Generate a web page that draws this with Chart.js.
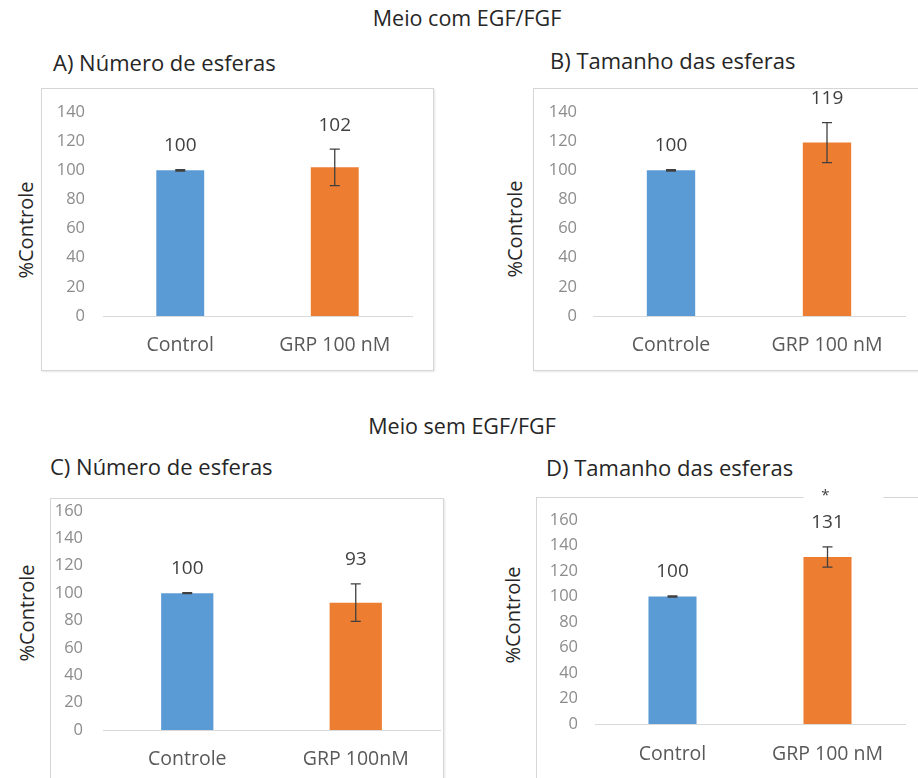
<!DOCTYPE html>
<html>
<head>
<meta charset="utf-8">
<script src="https://cdn.jsdelivr.net/npm/chart.js@4/dist/chart.umd.min.js"></script>
<style>
  html, body { margin:0; padding:0; background:#fff; overflow:hidden; }
  #page { position:relative; width:918px; height:778px; overflow:hidden; background:#fff; font-family:"Open Sans", sans-serif; }
  .box { position:absolute; border:1px solid #d6d6d6; box-sizing:border-box; box-shadow:1px 1px 2px rgba(0,0,0,0.10); }
  canvas { position:absolute; }
  .hdr { position:absolute; transform:translate(-50%,-50%); font-size:21.5px; color:#262626; white-space:nowrap; line-height:1; }
  .ttl { position:absolute; transform:translateY(-50%); font-size:22px; color:#262626; white-space:nowrap; line-height:1; }
  .ylab { position:absolute; transform:translate(-50%,-50%) rotate(-90deg); font-size:20px; color:#262626; white-space:nowrap; line-height:1; }
</style>
</head>
<body>
<div id="page">
  <div class="box" style="left:41px;top:88px;width:393px;height:283px"></div>
  <div class="box" style="left:533px;top:88px;width:400px;height:283px"></div>
  <div class="box" style="left:50px;top:498px;width:394px;height:300px"></div>
  <div class="box" style="left:536px;top:497px;width:400px;height:300px"></div>

  <div class="hdr" style="left:467px;top:18px">Meio com EGF/FGF</div>
  <div class="hdr" style="left:462px;top:426px">Meio sem EGF/FGF</div>

  <div class="ttl" style="left:53px;top:62px">A) Número de esferas</div>
  <div class="ttl" style="left:550px;top:60px">B) Tamanho das esferas</div>
  <div class="ttl" style="left:50px;top:466px">C) Número de esferas</div>
  <div class="ttl" style="left:546px;top:467px">D) Tamanho das esferas</div>

  <div class="ylab" style="left:26px;top:230px">%Controle</div>
  <div class="ylab" style="left:515px;top:229px">%Controle</div>
  <div class="ylab" style="left:27px;top:613px">%Controle</div>
  <div class="ylab" style="left:513px;top:615px">%Controle</div>

  <canvas id="cA" width="393" height="283" style="left:41px;top:88px"></canvas>
  <canvas id="cB" width="385" height="283" style="left:533px;top:88px"></canvas>
  <canvas id="cC" width="394" height="290" style="left:50px;top:498px"></canvas>
  <canvas id="cD" width="382" height="311" style="left:536px;top:477px"></canvas>
</div>
<script>
// ---- data ----
const categoriesA = ['Control', 'GRP 100 nM'];
const valuesA = [100, 102];
const errorsA = [0.5, 12.5];

const categoriesB = ['Controle', 'GRP 100 nM'];
const valuesB = [100, 119];
const errorsB = [0.5, 13.7];

const categoriesC = ['Controle', 'GRP 100nM'];
const valuesC = [100, 93];
const errorsC = [0.3, 13.7];

const categoriesD = ['Control', 'GRP 100 nM'];
const valuesD = [100, 131];
const errorsD = [0.5, 8];
const marksD = ['', '*'];

const yMaxTop = 140;
const yMaxBottom = 160;
const yStep = 20;

const barColors = ['#5B9BD5', '#ED7D31'];
const FONT = '"Open Sans", sans-serif';

const errorBarPlugin = {
  id: 'errs',
  afterDatasetsDraw(chart, args, opts) {
    const ctx = chart.ctx;
    const meta = chart.getDatasetMeta(0);
    const ys = chart.scales.y;
    const vals = chart.data.datasets[0].data;
    meta.data.forEach((bar, i) => {
      const v = vals[i], e = opts.errors[i];
      const top = ys.getPixelForValue(v + e);
      const bot = ys.getPixelForValue(v - e);
      ctx.save();
      ctx.strokeStyle = '#404040';
      ctx.lineWidth = 1.3;
      ctx.beginPath();
      ctx.moveTo(bar.x, top); ctx.lineTo(bar.x, bot);
      ctx.moveTo(bar.x - 5, top); ctx.lineTo(bar.x + 5, top);
      ctx.moveTo(bar.x - 5, bot); ctx.lineTo(bar.x + 5, bot);
      ctx.stroke();
      ctx.fillStyle = '#404040';
      ctx.font = '19px ' + FONT;
      ctx.textAlign = 'center';
      ctx.textBaseline = 'middle';
      const ly = top - 24;
      ctx.fillText(String(v), bar.x, ly);
      if (opts.marks && opts.marks[i]) {
        ctx.fillStyle = '#ffffff';
        ctx.fillRect(bar.x - 24, ly - 37, 80, 16);
        ctx.fillStyle = '#404040';
        ctx.font = '15px ' + FONT;
        ctx.fillText(opts.marks[i], bar.x - 2, ly - 27);
      }
      ctx.restore();
    });
  }
};

function makeChart(id, cats, vals, errs, marks, yMax, g) {
  return new Chart(document.getElementById(id), {
    type: 'bar',
    data: {
      labels: cats,
      datasets: [{
        data: vals,
        backgroundColor: barColors,
        borderWidth: 0,
        barPercentage: 1,
        categoryPercentage: 0.31
      }]
    },
    options: {
      responsive: false,
      animation: false,
      devicePixelRatio: 1,
      layout: { padding: { left: 0, top: g.top, right: g.right, bottom: 0 } },
      plugins: {
        legend: { display: false },
        tooltip: { enabled: false },
        errs: { errors: errs, marks: marks }
      },
      scales: {
        x: {
          grid: { display: false, drawTicks: false },
          border: { display: true, color: '#d9d9d9', width: 1 },
          ticks: { color: '#595959', font: { family: FONT, size: 19.5 }, padding: g.xPad },
          afterFit(s) { s.height = g.xH; s.paddingLeft = 0; s.paddingRight = 0; }
        },
        y: {
          min: 0, max: yMax,
          grid: { display: false, drawTicks: false },
          border: { display: false },
          ticks: { stepSize: yStep, color: '#8c8c8c', font: { family: FONT, size: 16.5 }, padding: g.yPad },
          afterFit(s) { s.width = g.yW; s.paddingTop = 0; s.paddingBottom = 0; }
        }
      }
    },
    plugins: [errorBarPlugin]
  });
}

makeChart('cA', categoriesA, valuesA, errorsA, null, yMaxTop,
  { top: 24, right: 22, yW: 62, xH: 55, yPad: 18, xPad: 18 });
makeChart('cB', categoriesB, valuesB, errorsB, null, yMaxTop,
  { top: 24, right: 13, yW: 60, xH: 55, yPad: 16, xPad: 18 });
makeChart('cC', categoriesC, valuesC, errorsC, null, yMaxBottom,
  { top: 13, right: 4, yW: 53, xH: 58, yPad: 20, xPad: 18 });
makeChart('cD', categoriesD, valuesD, errorsD, marksD, yMaxBottom,
  { top: 43, right: 13, yW: 59, xH: 64, yPad: 17, xPad: 19 });
</script>
</body>
</html>
